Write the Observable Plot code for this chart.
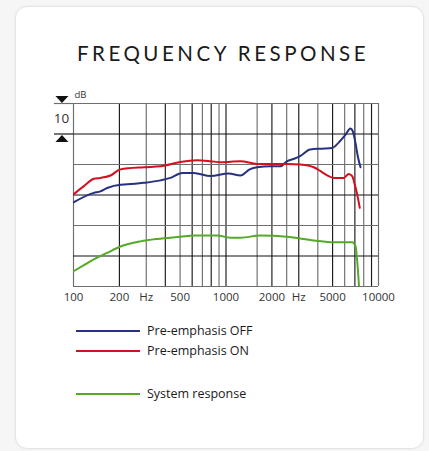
<!DOCTYPE html>
<html>
<head>
<meta charset="utf-8">
<script src="https://cdn.jsdelivr.net/npm/d3@7"></script>
<script src="https://cdn.jsdelivr.net/npm/@observablehq/plot@0.6"></script>
<style>
  html, body { margin: 0; padding: 0; background: #f6f6f6; }
  #page { position: relative; width: 429px; height: 451px; overflow: hidden; }
  #card { position: absolute; left: 15px; top: 6px; width: 409px; height: 443px;
          background: #fff; border: 1px solid #e4e4e4; border-radius: 12px;
          box-shadow: 0 0 3px rgba(0,0,0,0.05); box-sizing: border-box; }
  #title { position: absolute; left: 0; width: 446px; top: 41px; text-align: center;
           font-family: Lato, "Open Sans", sans-serif; font-size: 20.5px; font-weight: 400;
           letter-spacing: 3.5px; color: #1a1a1a; }
  #chart { position: absolute; left: 0; top: 0; }
  #legend { position: absolute; left: 76px; top: 322px; font-family: "Open Sans", sans-serif;
            font-size: 12.5px; color: #1a1a1a; }
  .item { position: absolute; left: 0; display: flex; align-items: center; white-space: nowrap; }
  .swatch { width: 64px; height: 0; border-top: 2px solid; margin-right: 7px; }
</style>
</head>
<body>
<div id="page">
  <div id="card"></div>
  <div id="title">FREQUENCY RESPONSE</div>
  <div id="chart"></div>
  <div id="legend"></div>
</div>
<script>
// ---- data ----
const seriesNames = ["Pre-emphasis OFF", "Pre-emphasis ON", "System response"];
const seriesColors = ["#26327f", "#d3101f", "#55a928"];

const offFreq = [100, 136, 150, 166, 203, 225, 289, 372, 432, 516, 615, 791, 1040, 1245, 1430, 1602, 1950, 2277, 2518, 2770, 3080, 3563, 4223, 4957, 5460, 6087, 6546, 6781, 7063, 7313, 7621];
const offDb   = [-12.4, -9.3, -8.8, -7.7, -6.6, -6.5, -6.0, -5.2, -4.4, -2.75, -2.75, -3.8, -2.95, -3.6, -1.6, -0.9, -0.6, -0.6, 1.1, 1.8, 2.8, 4.9, 5.2, 5.4, 7.1, 9.8, 11.8, 10.9, 7.1, 2.7, -0.9];

const onFreq = [100, 117, 136, 150, 175, 203, 289, 372, 503, 647, 791, 920, 1040, 1245, 1602, 2518, 3080, 3767, 4170, 4610, 5093, 5920, 6383, 6723, 6990, 7248, 7534];
const onDb   = [-9.8, -7.1, -4.7, -4.4, -3.6, -1.6, -0.9, -0.6, 0.85, 1.4, 1.1, 0.75, 0.85, 1.1, 0.2, 0.2, 0.0, -0.9, -2.2, -3.6, -4.4, -4.4, -3.1, -3.8, -6.6, -9.8, -14.2];

const sysFreq = [100, 117, 136, 166, 203, 275, 354, 503, 615, 875, 1071, 1245, 1683, 2518, 3767, 5093, 6723, 7063, 7450];
const sysDb   = [-35, -33.0, -31.1, -29, -26.9, -25.2, -24.4, -23.7, -23.3, -23.3, -24.0, -24.0, -23.3, -23.7, -24.9, -25.5, -25.5, -26.8, -40];

const gridFreq = [100, 200, 300, 400, 500, 600, 700, 800, 900, 1000, 1600, 2000, 2500, 3000, 4000, 5000, 6000, 7000, 8000, 9000, 10000];
const gridDb = [20, 10, 0, -10, -20, -30, -40];
const tickFreq = [100, 200, 300, 500, 1000, 2000, 3000, 5000, 10000];
const tickLabels = ["100", "200", "Hz", "500", "1000", "2000", "Hz", "5000", "10000"];
const scaleBar = {top: 20, bottom: 10, label: "10", unit: "dB", freq: 84, ruleFrom: 75};

// ---- build ----
const rows = [];
[offFreq, onFreq, sysFreq].forEach((fs, k) => {
  const ds = [offDb, onDb, sysDb][k];
  fs.forEach((f, i) => rows.push({series: seriesNames[k], f, db: ds[i]}));
});
const ticks = tickFreq.map((f, i) => ({f, label: tickLabels[i], y: gridDb[gridDb.length - 1]}));

const flatTri = (down) => ({
  draw(ctx, size) {
    const r = Math.sqrt(size / Math.PI);
    const h = r * 0.55;
    if (down) { ctx.moveTo(-r, -h); ctx.lineTo(r, -h); ctx.lineTo(0, h); }
    else { ctx.moveTo(-r, h); ctx.lineTo(r, h); ctx.lineTo(0, -h); }
    ctx.closePath();
  }
});

const chart = Plot.plot({
  width: 429,
  height: 310,
  marginLeft: 73,
  marginRight: 51,
  marginTop: 103,
  marginBottom: 24,
  style: {background: "transparent", fontFamily: "'Open Sans', sans-serif", color: "#333"},
  x: {type: "log", domain: [100, 10000], axis: null},
  y: {domain: [-40, 20], axis: null},
  color: {domain: seriesNames, range: seriesColors},
  marks: [
    Plot.ruleX(gridFreq, {stroke: (d, i) => (i % 2 ? "#1a1a1a" : "#6e6e6e"), strokeWidth: 1.15}),
    Plot.ruleY(gridDb, {stroke: (d, i) => (i % 2 ? "#111" : "#6e6e6e"), strokeWidth: 1.15}),
    Plot.ruleY([scaleBar.top], {x1: scaleBar.ruleFrom, x2: 100, stroke: "#6e6e6e", strokeWidth: 1.15}),
    Plot.ruleY([scaleBar.bottom], {x1: scaleBar.ruleFrom, x2: 100, stroke: "#111", strokeWidth: 1.15}),
    Plot.dot([scaleBar.top], {x: () => scaleBar.freq, y: d => d, dy: -4, r: 6.5, symbol: flatTri(true), fill: "#111", stroke: null}),
    Plot.dot([scaleBar.bottom], {x: () => scaleBar.freq, y: d => d, dy: 4.5, r: 6.5, symbol: flatTri(false), fill: "#111", stroke: null}),
    Plot.text([scaleBar.label], {x: () => scaleBar.freq, y: (scaleBar.top + scaleBar.bottom) / 2, text: d => d, fontSize: 13.5, fill: "#333", dx: -0.5}),
    Plot.text([scaleBar.unit], {x: () => 100, y: () => scaleBar.top, text: d => d, fontSize: 9.5, fill: "#333", textAnchor: "start", dx: 1, dy: -9}),
    Plot.line(rows, {x: "f", y: "db", z: "series", stroke: "series", strokeWidth: 2, curve: "monotone-x", clip: true}),
    Plot.text(ticks, {x: "f", y: "y", text: "label", dy: 11, fontSize: 11.5, fill: "#333"})
  ]
});
document.getElementById("chart").appendChild(chart);

// legend
const legendTops = [0, 20, 63];
const legend = document.getElementById("legend");
seriesNames.forEach((name, i) => {
  const item = document.createElement("div");
  item.className = "item";
  item.style.top = legendTops[i] + "px";
  const sw = document.createElement("span");
  sw.className = "swatch";
  sw.style.borderColor = seriesColors[i];
  const tx = document.createElement("span");
  tx.textContent = name;
  item.appendChild(sw);
  item.appendChild(tx);
  legend.appendChild(item);
});
</script>
</body>
</html>
